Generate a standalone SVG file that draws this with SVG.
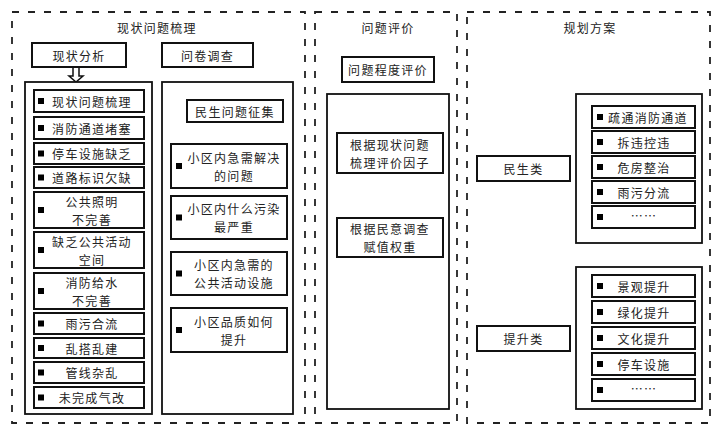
<svg xmlns="http://www.w3.org/2000/svg" width="711" height="426" viewBox="0 0 711 426">
<style>
.panel{fill:none;stroke:#222;stroke-width:1.8;stroke-dasharray:7 9}
.big{fill:#fff;stroke:#111;stroke-width:1.8}
.box{fill:#fff;stroke:#111;stroke-width:2}
.t{font-family:"Noto Sans CJK SC","Liberation Serif",sans-serif;font-size:12px;fill:#222;text-anchor:middle;dominant-baseline:central;letter-spacing:1.3px}
.b{fill:#000}
</style>
<rect width="711" height="426" fill="#fff"/>
<g id="panel-left">
<rect class="panel" x="12" y="12" width="293" height="411"/>
<text class="t" x="157" y="27">现状问题梳理</text>
</g>
<g id="panel-mid">
<rect class="panel" x="315" y="12" width="142" height="411"/>
<text class="t" x="388" y="27">问题评价</text>
</g>
<g id="panel-right">
<rect class="panel" x="467" y="12" width="243" height="411"/>
<text class="t" x="590" y="27">规划方案</text>
</g>
<g id="connectors">
<path d="M73 67 V76 H69 L76 82 L83 76 H79 V67" fill="#fff" stroke="#111" stroke-width="1.5"/>
</g>
<g id="n-xzfx"><rect class="box" x="32" y="43" width="94" height="24"/><text class="t" x="79" y="55">现状分析</text></g>
<g id="n-wjdc"><rect class="box" x="162" y="43" width="91" height="24"/><text class="t" x="207.5" y="55">问卷调查</text></g>
<g id="n-left-list">
<rect class="big" x="25" y="82" width="127" height="332"/>
<g id="i1"><rect class="box" x="34" y="90" width="110" height="22"/><rect class="b" x="38" y="98" width="6" height="6"/><text class="t" x="92" y="101">现状问题梳理</text></g>
<g id="i2"><rect class="box" x="34" y="117" width="110" height="22"/><rect class="b" x="38" y="125" width="6" height="6"/><text class="t" x="92" y="128">消防通道堵塞</text></g>
<g id="i3"><rect class="box" x="34" y="143" width="110" height="21"/><rect class="b" x="38" y="150.5" width="6" height="6"/><text class="t" x="92" y="153.5">停车设施缺乏</text></g>
<g id="i4"><rect class="box" x="34" y="167" width="110" height="21"/><rect class="b" x="38" y="174.5" width="6" height="6"/><text class="t" x="92" y="177.5">道路标识欠缺</text></g>
<g id="i5"><rect class="box" x="34" y="192" width="110" height="36"/><rect class="b" x="38" y="207" width="6" height="6"/><text class="t" x="92" y="201">公共照明</text><text class="t" x="92" y="219">不完善</text></g>
<g id="i6"><rect class="box" x="34" y="232" width="110" height="36"/><rect class="b" x="38" y="247" width="6" height="6"/><text class="t" x="92" y="241">缺乏公共活动</text><text class="t" x="92" y="259">空间</text></g>
<g id="i7"><rect class="box" x="34" y="273" width="110" height="36"/><rect class="b" x="38" y="288" width="6" height="6"/><text class="t" x="92" y="282">消防给水</text><text class="t" x="92" y="300">不完善</text></g>
<g id="i8"><rect class="box" x="34" y="313" width="110" height="21"/><rect class="b" x="38" y="320.5" width="6" height="6"/><text class="t" x="92" y="323.5">雨污合流</text></g>
<g id="i9"><rect class="box" x="34" y="338" width="110" height="20"/><rect class="b" x="38" y="345" width="6" height="6"/><text class="t" x="92" y="348">乱搭乱建</text></g>
<g id="i10"><rect class="box" x="34" y="362" width="110" height="21"/><rect class="b" x="38" y="369.5" width="6" height="6"/><text class="t" x="92" y="372.5">管线杂乱</text></g>
<g id="i11"><rect class="box" x="34" y="387" width="110" height="21"/><rect class="b" x="38" y="394.5" width="6" height="6"/><text class="t" x="92" y="397.5">未完成气改</text></g>
</g>
<g id="n-survey-list">
<rect class="big" x="162" y="82" width="131" height="332"/>
<g id="s0"><rect class="box" x="187" y="100" width="96" height="22"/><text class="t" x="235" y="111">民生问题征集</text></g>
<g id="s1"><rect class="box" x="171" y="144" width="116" height="44"/><rect class="b" x="176" y="163" width="6" height="6"/><text class="t" x="234" y="157">小区内急需解决</text><text class="t" x="234" y="175">的问题</text></g>
<g id="s2"><rect class="box" x="171" y="196" width="116" height="43"/><rect class="b" x="176" y="214.5" width="6" height="6"/><text class="t" x="234" y="208.5">小区内什么污染</text><text class="t" x="234" y="226.5">最严重</text></g>
<g id="s3"><rect class="box" x="171" y="252" width="116" height="43"/><rect class="b" x="176" y="270.5" width="6" height="6"/><text class="t" x="234" y="264.5">小区内急需的</text><text class="t" x="234" y="282.5">公共活动设施</text></g>
<g id="s4"><rect class="box" x="171" y="308" width="116" height="44"/><rect class="b" x="176" y="327" width="6" height="6"/><text class="t" x="234" y="321">小区品质如何</text><text class="t" x="234" y="339">提升</text></g>
</g>
<g id="n-cdpj"><rect class="box" x="342" y="57" width="92" height="25"/><text class="t" x="388" y="69.5">问题程度评价</text></g>
<g id="n-eval">
<rect class="big" x="327" y="94" width="122" height="315"/>
<g id="e1"><rect class="box" x="337" y="133" width="106" height="40"/><text class="t" x="390" y="144">根据现状问题</text><text class="t" x="390" y="162">梳理评价因子</text></g>
<g id="e2"><rect class="box" x="337" y="218" width="106" height="39"/><text class="t" x="390" y="228.5">根据民意调查</text><text class="t" x="390" y="246.5">赋值权重</text></g>
</g>
<g id="n-msl"><rect class="box" x="477" y="156" width="93" height="25"/><text class="t" x="523.5" y="168.5">民生类</text></g>
<g id="n-tsl"><rect class="box" x="477" y="326" width="93" height="25"/><text class="t" x="523.5" y="338.5">提升类</text></g>
<g id="n-ms-list">
<rect class="big" x="576" y="94" width="126" height="149"/>
<g id="m1"><rect class="box" x="592" y="106" width="103" height="22"/><rect class="b" x="597" y="114" width="6" height="6"/><text class="t" x="648" y="117">疏通消防通道</text></g>
<g id="m2"><rect class="box" x="592" y="131" width="103" height="22"/><rect class="b" x="597" y="139" width="6" height="6"/><text class="t" x="644" y="142">拆违控违</text></g>
<g id="m3"><rect class="box" x="592" y="156" width="103" height="22"/><rect class="b" x="597" y="164" width="6" height="6"/><text class="t" x="644" y="167">危房整治</text></g>
<g id="m4"><rect class="box" x="592" y="181" width="103" height="22"/><rect class="b" x="597" y="189" width="6" height="6"/><text class="t" x="644" y="192">雨污分流</text></g>
<g id="m5"><rect class="box" x="592" y="206" width="103" height="22"/><rect class="b" x="597" y="214" width="6" height="6"/><text class="t" x="644" y="215">……</text></g>
</g>
<g id="n-ts-list">
<rect class="big" x="576" y="267" width="126" height="142"/>
<g id="p1"><rect class="box" x="592" y="275" width="103" height="22"/><rect class="b" x="597" y="283" width="6" height="6"/><text class="t" x="644" y="286">景观提升</text></g>
<g id="p2"><rect class="box" x="592" y="301" width="103" height="22"/><rect class="b" x="597" y="309" width="6" height="6"/><text class="t" x="644" y="312">绿化提升</text></g>
<g id="p3"><rect class="box" x="592" y="327" width="103" height="22"/><rect class="b" x="597" y="335" width="6" height="6"/><text class="t" x="644" y="338">文化提升</text></g>
<g id="p4"><rect class="box" x="592" y="353" width="103" height="22"/><rect class="b" x="597" y="361" width="6" height="6"/><text class="t" x="644" y="364">停车设施</text></g>
<g id="p5"><rect class="box" x="592" y="379" width="103" height="22"/><rect class="b" x="597" y="387" width="6" height="6"/><text class="t" x="644" y="388">……</text></g>
</g>
</svg>
